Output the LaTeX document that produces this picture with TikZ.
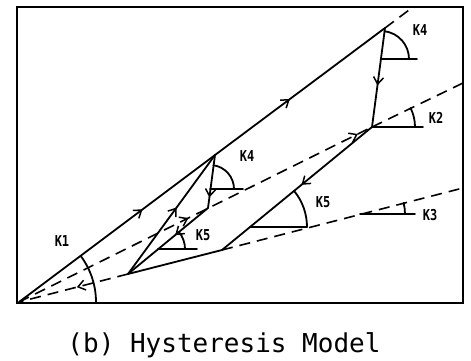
\documentclass[tikz,border=0pt]{standalone}
\usepackage{fontspec}
\newfontfamily\labfont{DejaVu Sans Mono}[FakeStretch=0.8]
\newfontfamily\capfont{DejaVu Sans Mono}
\usetikzlibrary{arrows.meta,decorations.markings}
\begin{document}
\begin{tikzpicture}[x=1pt,y=1pt,
  ln/.style={line width=1.8pt, line cap=round, line join=round},
  dsh/.style={line width=1.6pt, dash pattern=on 11pt off 7pt},
  frm/.style={line width=2pt},
  lab/.style={font=\labfont\bfseries\fontsize{15}{15}\selectfont, inner sep=0pt},
  midarr/.style={postaction={decorate,decoration={markings,
      mark=at position #1 with {\arrow[line width=1.5pt]{Straight Barb[length=7pt,width=10pt]}}}}}
]
\useasboundingbox (0,0) rectangle (471,-361);
\coordinate (TL) at (17,-7);
\coordinate (BR) at (463,-303);
\draw[frm] (TL) rectangle (BR);
% key points
\coordinate (O) at (19,-302);
\coordinate (A) at (215,-155);
\coordinate (B) at (385,-28);
\coordinate (Btop) at (413,-7);
\coordinate (C) at (372,-127);
\coordinate (K2end) at (463,-83);
\coordinate (P) at (128,-274);
\coordinate (F) at (222,-250);
\coordinate (K3end) at (463,-188);
\coordinate (G) at (208,-208);
\coordinate (E) at (250,-227);
\coordinate (H) at (158,-249);
\coordinate (Ka) at (210,-189);
\coordinate (Kb) at (381,-59);
\coordinate (K3v) at (360,-214);
% paths
\draw[ln, midarr=0.63] (O) -- (A);
\draw[ln, midarr=0.44] (A) -- (B);
\draw[dsh] (B) -- (Btop);
\draw[ln, midarr=0.58] (B) -- (C);
\draw[dsh, midarr=0.48, midarr=0.96] (O) -- (C);
\draw[dsh] (C) -- (K2end);
\draw[ln, midarr=0.47] (C) -- (F);
\draw[ln] (F) -- (P);
\draw[dsh, midarr=0.47] (P) -- (O);
\draw[ln, midarr=0.56] (P) -- (A);
\draw[ln, midarr=0.8] (A) -- (G);
\draw[ln, midarr=0.41] (G) -- (P);
\draw[dsh] (F) -- (K3end);
% angle marks
\draw[ln] (O) ++(77,0) arc[start angle=0,end angle=36.9,radius=77];
\draw[ln] (E) -- ++(57,0) arc[start angle=0,end angle=39.4,radius=57];
\draw[ln] (H) -- ++(39,0);
\draw[ln] (H) ++(27,0) arc[start angle=0,end angle=39.5,radius=27];
\draw[ln] (Ka) -- ++(33,0);
\draw[ln] (Ka) ++(24,0) arc[start angle=0,end angle=82,radius=24];
\draw[ln] (Kb) -- ++(36,0);
\draw[ln] (Kb) ++(28,0) arc[start angle=0,end angle=83,radius=28];
\draw[ln] (C) -- ++(51,0);
\draw[ln] (C) ++(43,0) arc[start angle=0,end angle=26.2,radius=43];
\draw[ln] (K3v) -- ++(55,0);
\draw[ln] (K3v) ++(45,0) arc[start angle=0,end angle=14.4,radius=45];
% labels
\node[lab] (k1) at (62,-241) {K1};
\node[lab] (k4a) at (247,-156) {K4};
\node[lab] (k5a) at (203,-235) {K5};
\node[lab] (k4b) at (420,-30) {K4};
\node[lab] (k2) at (436,-118) {K2};
\node[lab] (k5b) at (323,-202) {K5};
\node[lab] (k3) at (430,-215) {K3};
\node[font=\capfont\fontsize{26}{26}\selectfont, anchor=base, inner sep=0pt] (cap) at (224,-352) {(b) Hysteresis Model};
\end{tikzpicture}
\end{document}
